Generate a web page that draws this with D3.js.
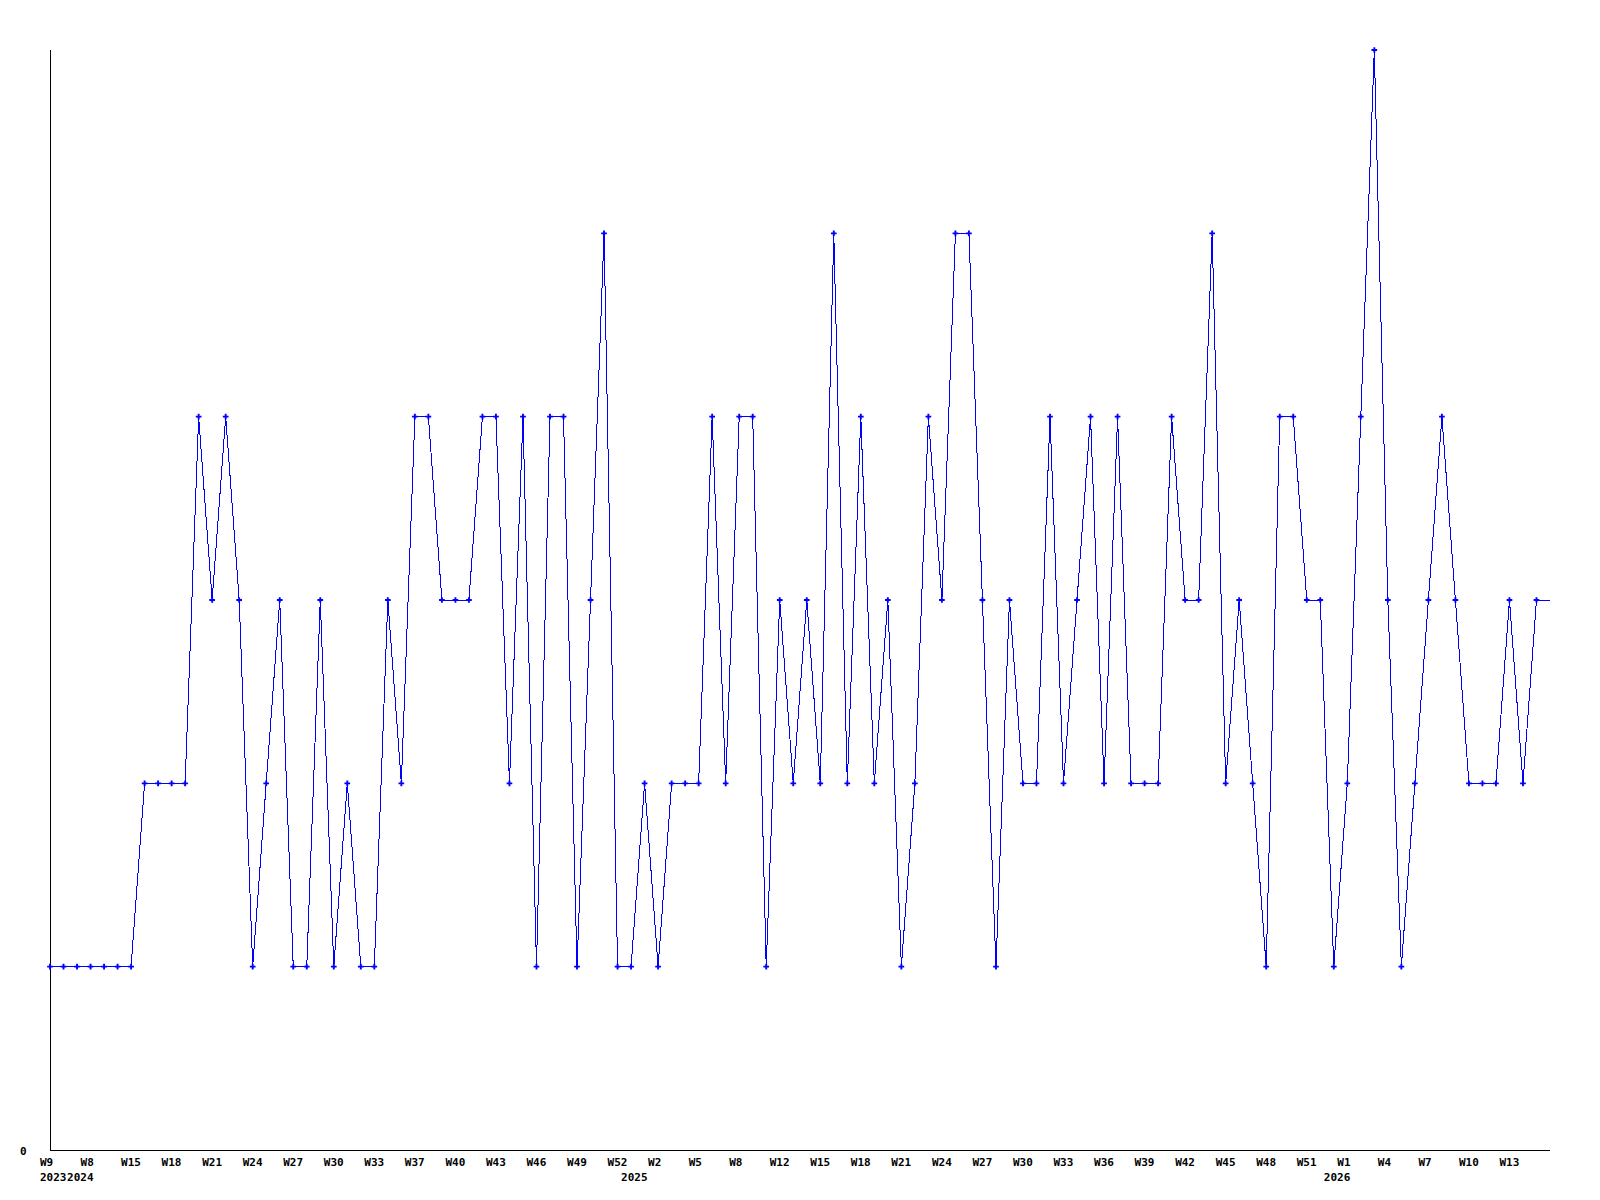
<!DOCTYPE html>
<html>
<head>
<meta charset="utf-8">
<script src="https://cdn.jsdelivr.net/npm/d3@7"></script>
<style>
  body { margin: 0; background: #fff; }
  text { font-family: "DejaVu Sans Mono", monospace; font-size: 11px; font-weight: bold; fill: #000; }
</style>
</head>
<body>
<div id="wrapper"></div>
<script>
// weekly counts, one per point
const values = [
    1, 1, 1, 1, 1, 1, 1,
    2, 2, 2, 2,
    4, 3, 4, 3, 1, 2, 3, 1, 1, 3,
    1, 2, 1, 1, 3, 2, 4, 4, 3, 3,
    3, 4, 4, 2, 4, 1, 4, 4, 1, 3,
    5, 1, 1, 2, 1, 2, 2, 2, 4, 2,
    4, 4, 1, 3, 2, 3, 2, 5, 2, 4,
    2, 3, 1, 2, 4, 3, 5, 5, 3, 1,
    3, 2, 2, 4, 2, 3, 4, 2, 4, 2,
    2, 2, 4, 3, 3, 5, 2, 3, 2, 1,
    4, 4, 3, 3, 1, 2, 4, 6, 3, 1,
    2, 3, 4, 3, 2, 2, 2, 3, 2, 3
];

// a week label on every third point
const weekLabels = [
    "W9", "W8", "W15", "W18", "W21", "W24", "W27", "W30", "W33", "W37",
    "W40", "W43", "W46", "W49", "W52", "W2", "W5", "W8", "W12", "W15",
    "W18", "W21", "W24", "W27", "W30", "W33", "W36", "W39", "W42", "W45",
    "W48", "W51", "W1", "W4", "W7", "W10", "W13"
];
const labelStep = 3;

const years = ["2023", "2024", "2025", "2026"];
const yearIndex = [0, 2, 43, 95];

const yTickValues = [0];

const dimensions = {
    width: 1600,
    height: 1200,
    margin: { top: 50, right: 50, bottom: 50, left: 50 }
};
dimensions.boundedWidth = dimensions.width - dimensions.margin.left - dimensions.margin.right;
dimensions.boundedHeight = dimensions.height - dimensions.margin.top - dimensions.margin.bottom;

const svg = d3.select("#wrapper")
    .append("svg")
    .attr("width", dimensions.width)
    .attr("height", dimensions.height);

const bounds = svg.append("g")
    .attr("transform", `translate(${dimensions.margin.left},${dimensions.margin.top})`);

// the line runs on past the last point to the right edge
const xScale = d3.scaleLinear()
    .domain([0, values.length])
    .range([0, dimensions.boundedWidth]);

const yScale = d3.scaleLinear()
    .domain([0, 6])
    .range([dimensions.boundedHeight, 0]);

// axes: plain black lines
bounds.append("line")
    .attr("x1", 0).attr("x2", 0)
    .attr("y1", 0).attr("y2", dimensions.boundedHeight)
    .attr("stroke", "#000")
    .attr("shape-rendering", "crispEdges");

bounds.append("line")
    .attr("x1", 0).attr("x2", dimensions.boundedWidth)
    .attr("y1", dimensions.boundedHeight).attr("y2", dimensions.boundedHeight)
    .attr("stroke", "#000")
    .attr("shape-rendering", "crispEdges");

bounds.selectAll(".ylabel")
    .data(yTickValues)
    .enter()
    .append("text")
    .attr("class", "ylabel")
    .attr("x", -30)
    .attr("y", d => yScale(d) + 5)
    .text(d => d);

bounds.selectAll(".wlabel")
    .data(weekLabels)
    .enter()
    .append("text")
    .attr("class", "wlabel")
    .attr("x", (d, i) => xScale(i * labelStep) - 10)
    .attr("y", dimensions.boundedHeight + 16)
    .text(d => d);

bounds.selectAll(".ylab")
    .data(years)
    .enter()
    .append("text")
    .attr("class", "ylab")
    .attr("x", (d, i) => xScale(yearIndex[i]) - 10)
    .attr("y", dimensions.boundedHeight + 31)
    .text(d => d);

// data line
const lineData = values.map((v, i) => [i, v]);
lineData.push([values.length, values[values.length - 1]]);

const line = d3.line()
    .x(d => xScale(d[0]))
    .y(d => yScale(d[1]));

bounds.append("path")
    .datum(lineData)
    .attr("d", line)
    .attr("fill", "none")
    .attr("stroke", "#0000ff")
    .attr("stroke-width", 1)
    .attr("shape-rendering", "crispEdges");

bounds.selectAll(".dot")
    .data(values)
    .enter()
    .append("path")
    .attr("class", "dot")
    .attr("transform", (d, i) => `translate(${xScale(i)},${yScale(d)})`)
    .attr("d", d3.symbol().type(d3.symbolCross).size(18))
    .attr("fill", "#0000ff");
</script>
</body>
</html>
